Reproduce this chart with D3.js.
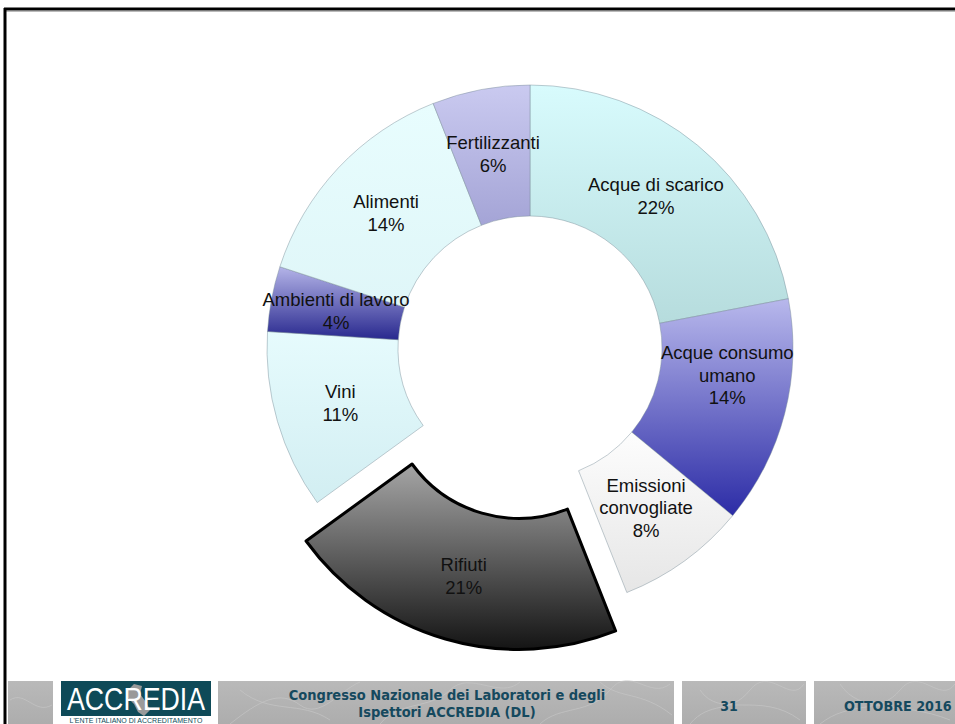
<!DOCTYPE html>
<html>
<head>
<meta charset="utf-8">
<script src="https://cdn.jsdelivr.net/npm/d3@7"></script>
<style>
  html, body { margin: 0; padding: 0; background: #fff; }
  svg { display: block; }
</style>
</head>
<body>
<svg id="chart" width="955" height="724"></svg>
<script>
// ---- data ----
const categories = ["Acque di scarico", "Acque consumo umano", "Emissioni convogliate", "Rifiuti", "Vini", "Ambienti di lavoro", "Alimenti", "Fertilizzanti"];
const labelLines = [["Acque di scarico"], ["Acque consumo", "umano"], ["Emissioni", "convogliate"], ["Rifiuti"], ["Vini"], ["Ambienti di lavoro"], ["Alimenti"], ["Fertilizzanti"]];
const values = [22, 14, 8, 21, 11, 4, 14, 6];
const percentLabels = ["22%", "14%", "8%", "21%", "11%", "4%", "14%", "6%"];
const footerTitle = ["Congresso Nazionale dei Laboratori e degli", "Ispettori ACCREDIA (DL)"];
const footerPage = "31";
const footerDate = "OTTOBRE 2016";

// ---- styles (separate from data) ----
const gradients = [
  ["#d8fbfd", "#b6dcdd"],
  ["#b8b8ec", "#2c2ca6"],
  ["#fdfdfd", "#e6e6e6"],
  ["#a6a6a6", "#141414"],
  ["#e6fbfd", "#d2eef2"],
  ["#b4b4e8", "#28288e"],
  ["#e8fdfe", "#dff6f8"],
  ["#cacaf0", "#a4a4d6"]
];
const explode = [0, 0, 0, 40, 0, 0, 0, 0];
const labelNudge = [[0, 0], [6, -22], [0, 0], [0, 0], [0, 0], [0, 0], [0, 0], [0, 0]];

const svg = d3.select("#chart");
const defs = svg.append("defs");
gradients.forEach((g, i) => {
  const lg = defs.append("linearGradient").attr("id", "g" + i)
    .attr("x1", 0).attr("y1", 0).attr("x2", 0).attr("y2", 1);
  lg.append("stop").attr("offset", "0%").attr("stop-color", g[0]);
  lg.append("stop").attr("offset", "100%").attr("stop-color", g[1]);
});
const fg = defs.append("linearGradient").attr("id", "footgrad").attr("x1",0).attr("y1",0).attr("x2",0).attr("y2",1);
fg.append("stop").attr("offset","0%").attr("stop-color","#b9b9b9");
fg.append("stop").attr("offset","100%").attr("stop-color","#adadad");

// ---- frame ----
svg.append("line").attr("x1", 4).attr("x2", 955).attr("y1", 9).attr("y2", 9)
  .attr("stroke", "#000").attr("stroke-width", 3);
svg.append("line").attr("x1", 4).attr("x2", 955).attr("y1", 11).attr("y2", 11)
  .attr("stroke", "#777").attr("stroke-width", 1);
svg.append("line").attr("x1", 5).attr("x2", 5).attr("y1", 8).attr("y2", 724)
  .attr("stroke", "#000").attr("stroke-width", 3);

// ---- donut ----
const cx = 530, cy = 348, rOuter = 263, rInner = 132;
const pie = d3.pie().sort(null).value(d => d)(values);
const arc = d3.arc().innerRadius(rInner).outerRadius(rOuter);
const g = svg.append("g").attr("transform", `translate(${cx},${cy})`);
const offset = (d, i) => {
  const a = (d.startAngle + d.endAngle) / 2;
  return [explode[i] * Math.sin(a), -explode[i] * Math.cos(a)];
};

g.selectAll("path.seg").data(pie).enter().append("path").attr("class", "seg")
  .attr("transform", (d, i) => `translate(${offset(d, i)})`)
  .attr("d", arc)
  .attr("fill", (d, i) => `url(#g${i})`)
  .attr("stroke", (d, i) => i === 3 ? "#000" : "rgba(120,140,150,0.45)")
  .attr("stroke-width", (d, i) => i === 3 ? 3 : 1)
  .attr("stroke-linejoin", "round");

const labels = g.append("g");
pie.forEach((d, i) => {
  const c = arc.centroid(d);
  const o = offset(d, i);
  const lines = labelLines[i].concat([percentLabels[i]]);
  const lh = 22.5;
  const x = c[0] + o[0] + labelNudge[i][0];
  const y0 = c[1] + o[1] + labelNudge[i][1] - (lines.length - 1) * lh / 2;
  const t = labels.append("text")
    .attr("text-anchor", "middle")
    .attr("font-family", "'Liberation Sans', Arial, sans-serif")
    .attr("font-size", 18.5)
    .attr("fill", "#111");
  lines.forEach((ln, k) => {
    t.append("tspan").attr("x", x).attr("y", y0 + k * lh).attr("dy", "0.35em").text(ln);
  });
});

// ---- footer ----
const footY = 681, footH = 43;
const boxes = [[8, 53], [218, 674], [682, 806], [814, 960]];
boxes.forEach(b => {
  svg.append("rect").attr("x", b[0]).attr("y", footY).attr("width", b[1] - b[0]).attr("height", footH)
    .attr("fill", "url(#footgrad)");
});
const tex = svg.append("g").attr("stroke", "#c8c8c8").attr("stroke-width", 0.8).attr("fill", "none").attr("opacity", 0.8);
const texPaths = [
  "M230,724 C260,700 280,690 300,705 S340,690 360,682",
  "M380,724 C400,700 430,710 450,690 S500,700 520,682",
  "M540,724 C560,705 590,715 610,690 S650,700 670,684",
  "M690,724 C710,700 730,715 750,690 S790,705 804,684",
  "M820,724 C850,700 880,715 900,690 S940,705 955,684",
  "M10,700 C25,690 35,715 52,705",
  "M240,690 C270,715 300,700 330,720",
  "M600,682 C620,700 640,690 672,715",
  "M700,690 C720,720 760,690 800,720",
  "M840,684 C860,715 900,700 950,720"
];
texPaths.forEach(p => tex.append("path").attr("d", p));

// logo
svg.append("rect").attr("x", 61).attr("y", footY).attr("width", 150).attr("height", footH).attr("fill", "#0e4a58");
svg.append("rect").attr("x", 61).attr("y", 716).attr("width", 150).attr("height", 8).attr("fill", "#fff");
svg.append("path").attr("d", "M128,690 L134,684 L142,686 L140,694 L146,702 L150,710 L144,716 L138,712 L134,704 L128,698 Z")
  .attr("fill", "#9a9a9a");
svg.append("text").attr("x", 136).attr("y", 710).attr("text-anchor", "middle")
  .attr("font-family", "'Liberation Sans', Arial, sans-serif").attr("font-size", 32)
  .attr("fill", "#fff").attr("textLength", 138).attr("lengthAdjust", "spacingAndGlyphs").text("ACCREDIA");
svg.append("text").attr("x", 136).attr("y", 723).attr("text-anchor", "middle")
  .attr("font-family", "'Liberation Sans', Arial, sans-serif").attr("font-size", 7)
  .attr("fill", "#0e4a58").text("L'ENTE ITALIANO DI ACCREDITAMENTO");

const footFont = "'DejaVu Sans Condensed', 'DejaVu Sans', sans-serif";
footerTitle.forEach((t, k) => {
  svg.append("text").attr("x", 447).attr("y", 700 + k * 17).attr("text-anchor", "middle")
    .attr("font-family", footFont).attr("font-weight", "bold").attr("font-size", 14.5)
    .attr("fill", "#15495e").text(t);
});
svg.append("text").attr("x", 729).attr("y", 711).attr("text-anchor", "middle")
  .attr("font-family", footFont).attr("font-weight", "bold").attr("font-size", 14)
  .attr("fill", "#15495e").text(footerPage);
svg.append("text").attr("x", 844).attr("y", 711).attr("text-anchor", "start")
  .attr("font-family", footFont).attr("font-weight", "bold").attr("font-size", 14.2)
  .attr("fill", "#15495e").text(footerDate);
</script>
</body>
</html>
